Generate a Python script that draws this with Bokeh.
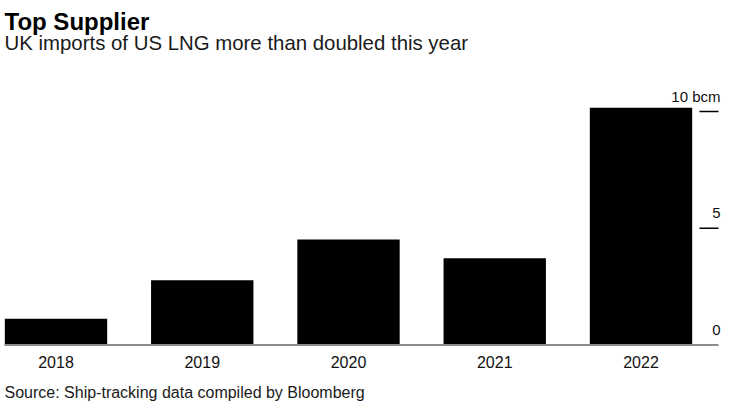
from bokeh.plotting import figure
from bokeh.models import Range1d, Label
from bokeh.embed import file_html
from bokeh.resources import INLINE
from bokeh.core.properties import value

# ---- data ----
years = ["2018", "2019", "2020", "2021", "2022"]
imports_bcm = [1.12, 2.77, 4.52, 3.71, 10.16]
y_ticks = [0, 5, 10]
y_tick_labels = ["0", "5", "10 bcm"]
title_text = "Top Supplier"
subtitle_text = "UK imports of US LNG more than doubled this year"
source_text = "Source: Ship-tracking data compiled by Bloomberg"

# ---- layout ----
W, H = 730, 417
FONT = "Liberation Sans"
x_pos = list(range(len(years)))
x_start, x_end = -0.3795, 4.612
base_x0 = -0.352
tick_x0, tick_x1 = 4.40, 4.53

p = figure(width=W, height=H, output_backend="svg", toolbar_location=None,
           x_range=Range1d(x_start, x_end), y_range=Range1d(-3.105, 14.754),
           min_border=0, x_axis_type=None, y_axis_type=None)
p.outline_line_color = None
p.background_fill_color = "white"
p.border_fill_color = "white"
for g in p.grid:
    g.visible = False

# bars
p.vbar(x=x_pos, top=imports_bcm, bottom=0, width=0.70,
       fill_color="#000000", line_color=None)

# baseline
p.segment(x0=[base_x0], y0=[0], x1=[tick_x1], y1=[0],
          line_color="#8c8c8c", line_width=2)

# y ticks (right side, non-zero)
nz = [t for t in y_ticks if t > 0]
p.segment(x0=[tick_x0] * len(nz), y0=nz, x1=[tick_x1] * len(nz), y1=nz,
          line_color="#000000", line_width=1.5)

# y tick labels
p.text(x=[tick_x1] * len(y_ticks), y=y_ticks, text=y_tick_labels,
       text_align="right", text_baseline="alphabetic",
       x_offset=2, y_offset=-15,
       text_font=value(FONT), text_font_size="15px", text_color="#111111")

# category labels
p.text(x=x_pos, y=[0] * len(years), text=years,
       text_align="center", text_baseline="alphabetic", y_offset=17.5,
       text_font=value(FONT), text_font_size="16px", text_color="#111111")

# titles and source
p.add_layout(Label(x=4, y=396, x_units="screen", y_units="screen",
                   text=title_text, text_font=FONT, text_font_size="24px",
                   text_font_style="bold", text_color="#000000",
                   text_baseline="alphabetic", text_align="left"))
p.add_layout(Label(x=4, y=375, x_units="screen", y_units="screen",
                   text=subtitle_text, text_font=FONT, text_font_size="20.4px",
                   text_color="#1a1a1a",
                   text_baseline="alphabetic", text_align="left"))
p.add_layout(Label(x=4, y=25, x_units="screen", y_units="screen",
                   text=source_text, text_font=FONT, text_font_size="16px",
                   text_color="#1a1a1a",
                   text_baseline="alphabetic", text_align="left"))

open("out.html", "w").write(file_html(p, INLINE))
